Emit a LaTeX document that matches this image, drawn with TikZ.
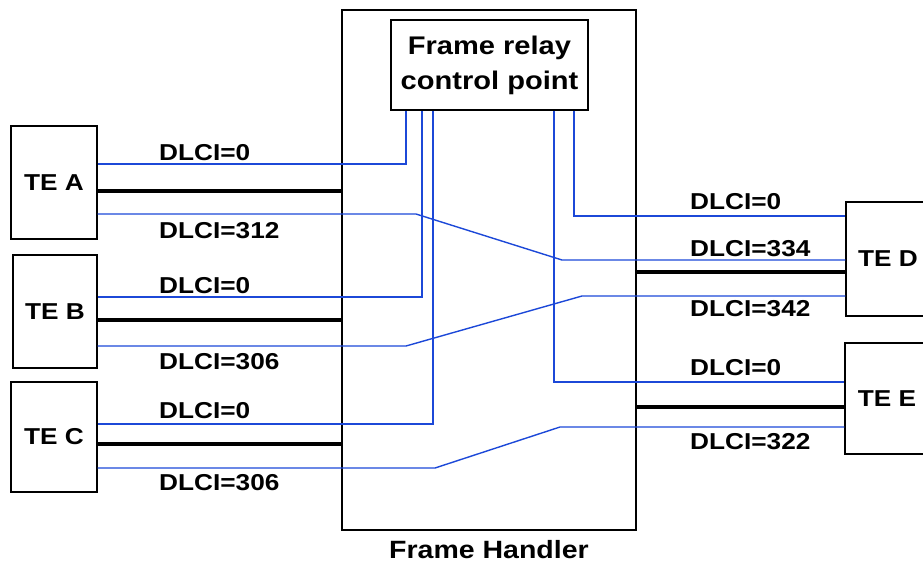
\documentclass[tikz,border=0pt]{standalone}
\usepackage{fontspec}
\usepackage{tikz}
\usetikzlibrary{positioning}
\newfontfamily\lblfont{Liberation Sans Bold}[FakeStretch=1.14]
\definecolor{vcblue}{HTML}{1C48D8}
\tikzset{
  tebox/.style={draw,line width=1.3pt,minimum width=#1,minimum height=113pt,inner sep=0pt,font=\lblfont\fontsize{23}{27}\selectfont},
  fhbox/.style={draw,line width=1.3pt,inner sep=0pt},
  vc/.style={vcblue,line width=1.4pt},
  trunk/.style={black,line width=4.5pt},
  dlci/.style={anchor=west,inner sep=0pt,font=\lblfont\fontsize{23}{27}\selectfont},
}
\begin{document}
\begin{tikzpicture}[x=1pt,y=-1pt]
\useasboundingbox (0,0) rectangle (923,563);
\node[fhbox,minimum width=294pt,minimum height=520pt] (fh) at (489,270) {};
\node[fhbox,fill=white,minimum width=197pt,minimum height=90pt,align=center,font=\lblfont\fontsize{25.5}{35}\selectfont] (cp) at (489.5,65) {Frame relay\\control point};
\node[dlci,anchor=north,below=10pt of fh,font=\lblfont\fontsize{25}{30}\selectfont] (fhlbl) {Frame Handler};
\node[tebox=86pt] (teA) at (54,182.5) {TE A};
\node[tebox=84pt] (teB) at (55,311.5) {TE B};
\node[tebox=86pt,minimum height=110pt] (teC) at (54,437) {TE C};
\node[tebox=84pt,minimum height=114pt] (teD) at (888,259) {TE D};
\node[tebox=84pt,minimum height=111pt] (teE) at (887,398.5) {TE E};
% trunks
\foreach \t/\y in {teA/191,teB/320,teC/444}
  \draw[trunk] (\t.east |- 0,\y) -- (fh.west |- 0,\y);
\foreach \t/\y in {teD/272,teE/407}
  \draw[trunk] (fh.east |- 0,\y) -- (\t.west |- 0,\y);
% signalling channels, DLCI=0
\draw[vc] (teA.east |- 0,164) -| (cp.south -| 406,0);
\draw[vc] (teB.east |- 0,297) -| (cp.south -| 422,0);
\draw[vc] (teC.east |- 0,424) -| (cp.south -| 433,0);
\draw[vc] (cp.south -| 574,0) |- (teD.west |- 0,216);
\draw[vc] (cp.south -| 554,0) |- (teE.west |- 0,382);
% virtual circuits
\draw[vc] (teA.east |- 0,214) -- (416,214) -- (562,260) -- (teD.west |- 0,260);
\draw[vc] (teB.east |- 0,346) -- (406,346) -- (582,296) -- (teD.west |- 0,296);
\draw[vc] (teC.east |- 0,468) -- (435,468) -- (560,427) -- (teE.west |- 0,427);
% labels
\node[dlci] (lA0) at (159,153) {DLCI=0};
\node[dlci] (lA1) at (159,231) {DLCI=312};
\node[dlci] (lB0) at (159,285.5) {DLCI=0};
\node[dlci] (lB1) at (159,362) {DLCI=306};
\node[dlci] (lC0) at (159,411) {DLCI=0};
\node[dlci] (lC1) at (159,483) {DLCI=306};
\node[dlci] (lD0) at (690,201.5) {DLCI=0};
\node[dlci] (lD1) at (690,249) {DLCI=334};
\node[dlci] (lD2) at (690,309) {DLCI=342};
\node[dlci] (lE0) at (690,368) {DLCI=0};
\node[dlci] (lE1) at (690,442) {DLCI=322};
\end{tikzpicture}
\end{document}
